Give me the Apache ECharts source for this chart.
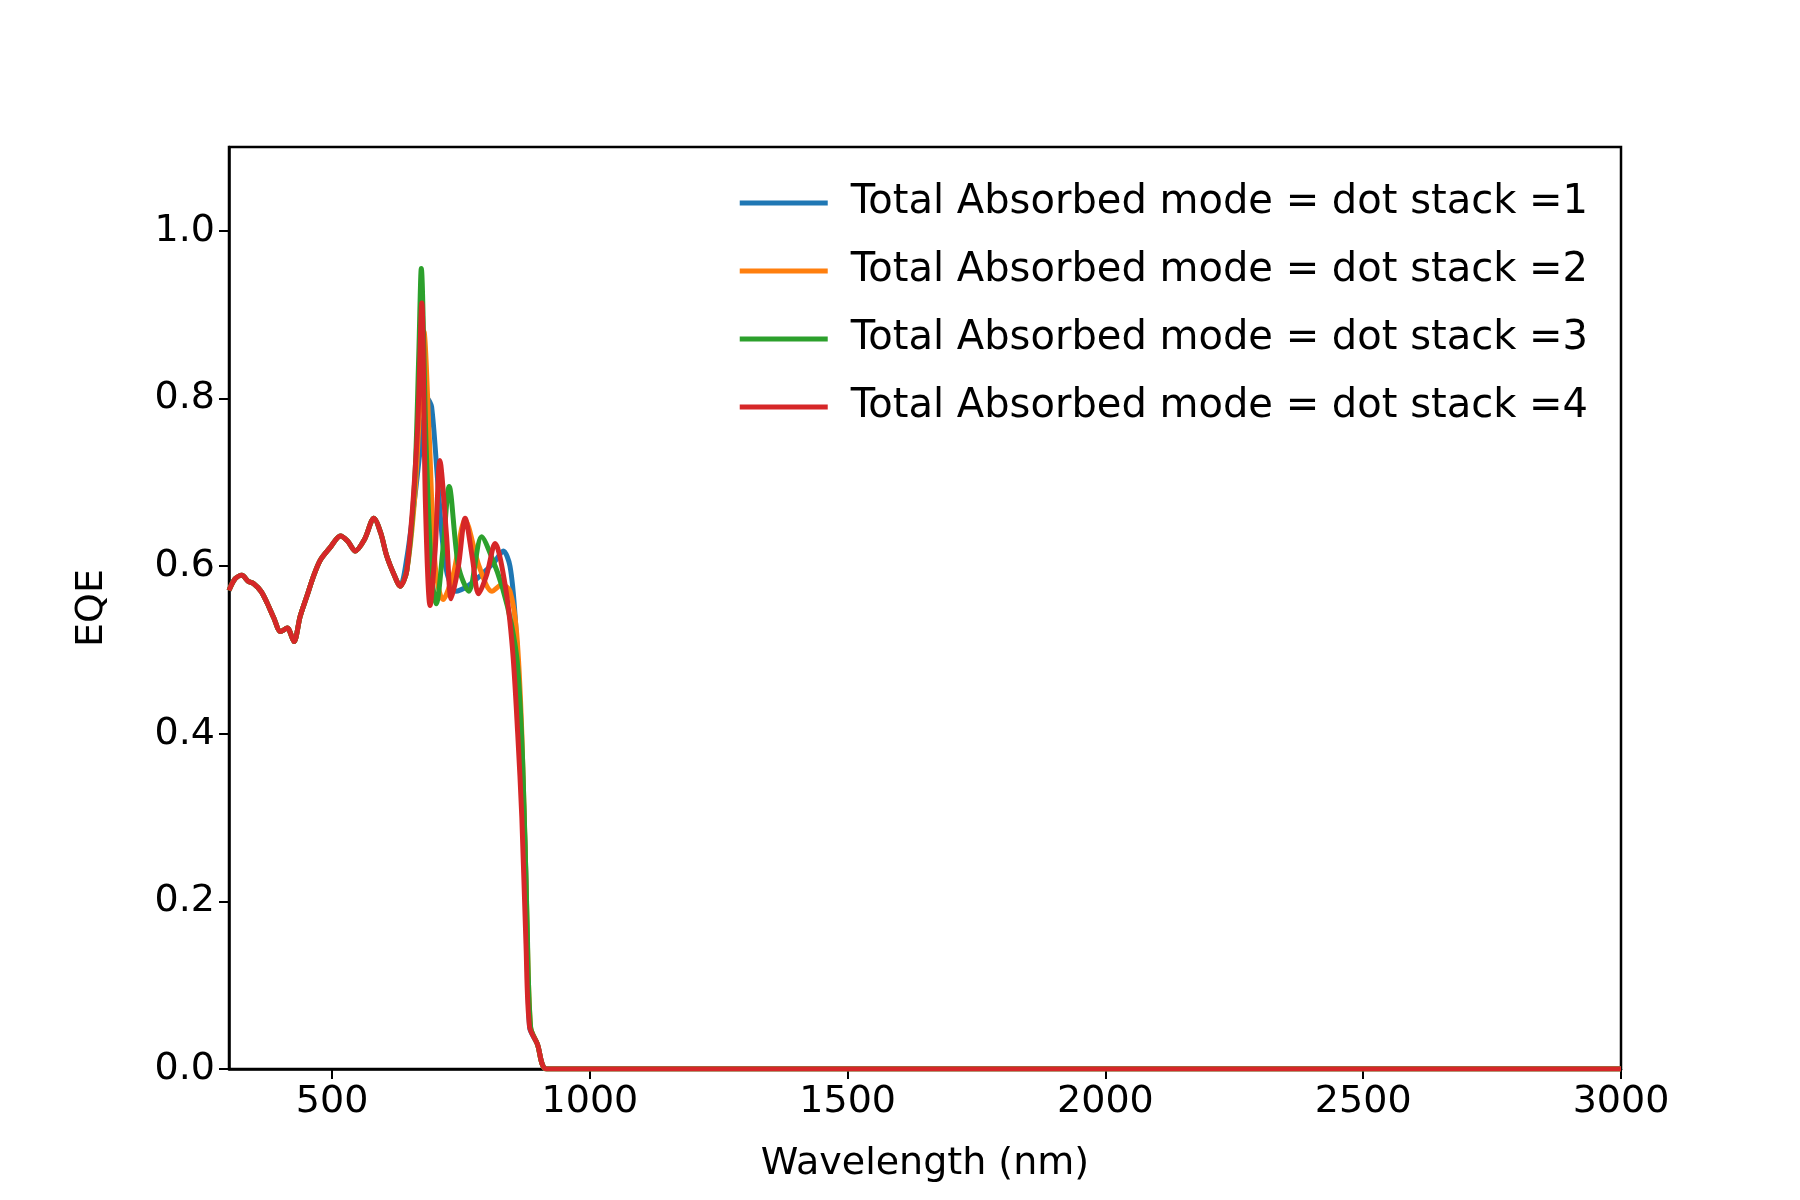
<!DOCTYPE html>
<html><head><meta charset="utf-8">
<script src="https://cdn.jsdelivr.net/npm/echarts@6/dist/echarts.min.js"></script>
<style>body{margin:0}#c{width:1800px;height:1200px}</style></head>
<body><div id="c"></div>
<script>
const seriesNames = ['Total Absorbed mode = dot stack =1','Total Absorbed mode = dot stack =2','Total Absorbed mode = dot stack =3','Total Absorbed mode = dot stack =4'];
const colors = ['#1f77b4','#ff7f0e','#2ca02c','#d62728'];
// shared part of curve (all stacks nearly identical)
const baseX = [300,312,325,337,348,362,374,387,400,413,426,438,451,464,477,496,516,530,545,563,581,594,606,620,632];
const baseY = [0.571,0.585,0.589,0.582,0.579,0.570,0.556,0.538,0.522,0.526,0.510,0.540,0.564,0.588,0.607,0.622,0.636,0.630,0.618,0.632,0.657,0.640,0.612,0.590,0.576];
// per-stack segment
const peak1X = [645,660,675,685,693,705,720,740,760,790,815,832,845,855,865,875,883,898,916];
const peak1Y = [0.610,0.680,0.760,0.800,0.790,0.700,0.600,0.570,0.575,0.590,0.605,0.618,0.600,0.540,0.420,0.250,0.050,0.030,0.000];
const peak2X = [645,660,670,678,688,700,715,735,758,785,810,830,845,858,868,877,885,898,916];
const peak2Y = [0.595,0.680,0.790,0.880,0.760,0.600,0.560,0.590,0.655,0.600,0.570,0.578,0.570,0.520,0.400,0.200,0.050,0.030,0.000];
const peak3X = [645,660,668,673,682,693,702,715,727,745,765,790,810,830,848,860,870,878,885,898,916];
const peak3Y = [0.595,0.700,0.850,0.955,0.750,0.590,0.555,0.620,0.695,0.600,0.570,0.635,0.610,0.575,0.530,0.480,0.360,0.180,0.050,0.030,0.000];
const peak4X = [645,665,674,681,690,700,709,722,731,745,758,772,784,800,816,836,850,860,868,876,883,898,916];
const peak4Y = [0.595,0.755,0.914,0.675,0.553,0.620,0.726,0.636,0.561,0.600,0.657,0.610,0.567,0.590,0.627,0.576,0.500,0.400,0.300,0.150,0.050,0.030,0.000];
const tailX = [1000,1500,2000,2500,3000];
const tailY = [0,0,0,0,0];
const xTicks = [500,1000,1500,2000,2500,3000];

const peaks = [[peak1X,peak1Y],[peak2X,peak2Y],[peak3X,peak3Y],[peak4X,peak4Y]];
const series = peaks.map((p,i)=>{
  const d=[];
  baseX.forEach((x,j)=>d.push([x,baseY[j]]));
  p[0].forEach((x,j)=>d.push([x,p[1][j]]));
  tailX.forEach((x,j)=>d.push([x,tailY[j]]));
  return {name:seriesNames[i],type:'line',data:d,showSymbol:false,smooth:0.3,
    lineStyle:{width:5,color:colors[i]},itemStyle:{color:colors[i]}};
});
const ch = echarts.init(document.getElementById('c'));
const font = 'DejaVu Sans';
ch.setOption({
  animation:false,
  textStyle:{fontFamily:font},
  grid:{left:229,right:155+24,top:147,bottom:117+14,show:true,borderColor:'#000',borderWidth:2.5},
  legend:{orient:'vertical',right:207,top:178,itemWidth:88,itemHeight:5,itemGap:28,icon:'rect',
    textStyle:{fontSize:40,fontFamily:font,color:'#000',padding:[0,0,0,18]}},
  xAxis:{type:'value',min:300,max:3000,name:'Wavelength (nm)',nameLocation:'middle',nameGap:76,
    nameTextStyle:{fontSize:38,color:'#000'},
    axisLine:{show:true,lineStyle:{color:'#000',width:2.5}},splitLine:{show:false},
    axisTick:{customValues:xTicks,length:10,lineStyle:{color:'#000',width:2}},
    axisLabel:{customValues:xTicks,fontSize:38,color:'#000',margin:14,formatter:v=>String(v)}},
  yAxis:{type:'value',min:0,max:1.1,interval:0.2,name:'EQE',nameLocation:'middle',nameGap:118,
    nameTextStyle:{fontSize:38,color:'#000'},
    axisLine:{show:true,lineStyle:{color:'#000',width:2.5}},splitLine:{show:false},
    axisTick:{show:true,length:10,lineStyle:{color:'#000',width:2}},
    axisLabel:{fontSize:38,color:'#000',margin:14,showMaxLabel:false,formatter:v=>v.toFixed(1)}},
  series:series
});
</script></body></html>
